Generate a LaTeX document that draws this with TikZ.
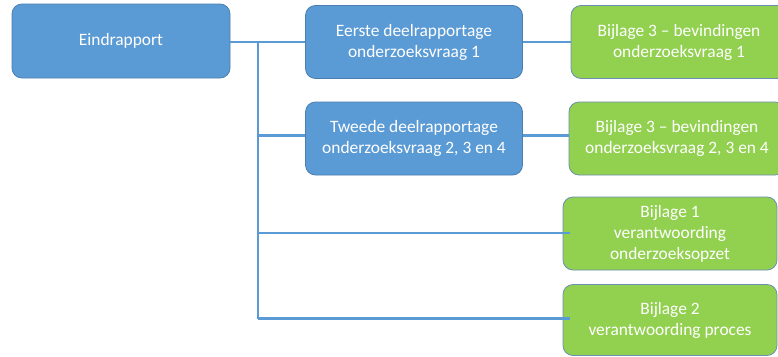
\documentclass[tikz,border=0pt]{standalone}
\usepackage{fontspec}
\setmainfont{Carlito}
\definecolor{boxblue}{HTML}{5B9BD5}
\definecolor{blueedge}{HTML}{4A7FB0}
\definecolor{boxgreen}{HTML}{92D050}
\definecolor{greenedge}{HTML}{6A8FB0}
\definecolor{linkblue}{HTML}{5B9BD5}
\begin{document}
\begin{tikzpicture}[x=1pt,y=-1pt,
  base/.style={rounded corners=10pt, minimum height=73pt, align=center,
    text=white, font=\fontsize{17.4}{21}\selectfont, inner sep=0pt, line width=0.8pt},
  bluebox/.style={base, fill=boxblue, draw=blueedge, minimum width=217pt},
  greenbox/.style={base, fill=boxgreen, draw=greenedge, minimum width=216pt},
  link/.style={draw=linkblue, line width=2.5pt}]
\useasboundingbox (0,0) rectangle (778,356);
\clip (0,0) rectangle (778,356);
\node[bluebox, minimum width=218pt, minimum height=74pt] (eind) at (121,41) {Eindrapport};
\node[bluebox] (eerste) at (414,42) {Eerste deelrapportage\\onderzoeksvraag 1};
\node[bluebox] (tweede) at (414,138.5) {Tweede deelrapportage\\onderzoeksvraag 2, 3 en 4};
\node[greenbox] (g1) at (679,42) {Bijlage 3 -- bevindingen\\onderzoeksvraag 1};
\node[greenbox] (g2) at (677,138.5) {Bijlage 3 -- bevindingen\\onderzoeksvraag 2, 3 en 4};
\node[greenbox, minimum width=214pt] (g3) at (670,233.5) {Bijlage 1\\verantwoording\\onderzoeksopzet};
\node[greenbox, minimum width=214pt, minimum height=71pt] (g4) at (670,320) {Bijlage 2\\verantwoording proces};
\coordinate (t1) at (258,42);
\coordinate (t2) at (258,135.5);
\coordinate (t3) at (258,233);
\coordinate (t4) at (258,318.5);
\coordinate (e3) at ([xshift=7pt]g3.west |- t3);
\coordinate (e4) at ([xshift=7pt]g4.west |- t4);
\draw[link] (eind.east |- t1) -- (eerste.west |- t1);
\draw[link] (t1) -- (t4);
\draw[link] (t2) -- (tweede.west |- t2);
\draw[link] (eerste.east |- t1) -- (g1.west |- t1);
\draw[link] (tweede.east |- t2) -- (g2.west |- t2);
\draw[link] (t3) -- (e3);
\draw[link] (t4) -- (e4);
\end{tikzpicture}
\end{document}
